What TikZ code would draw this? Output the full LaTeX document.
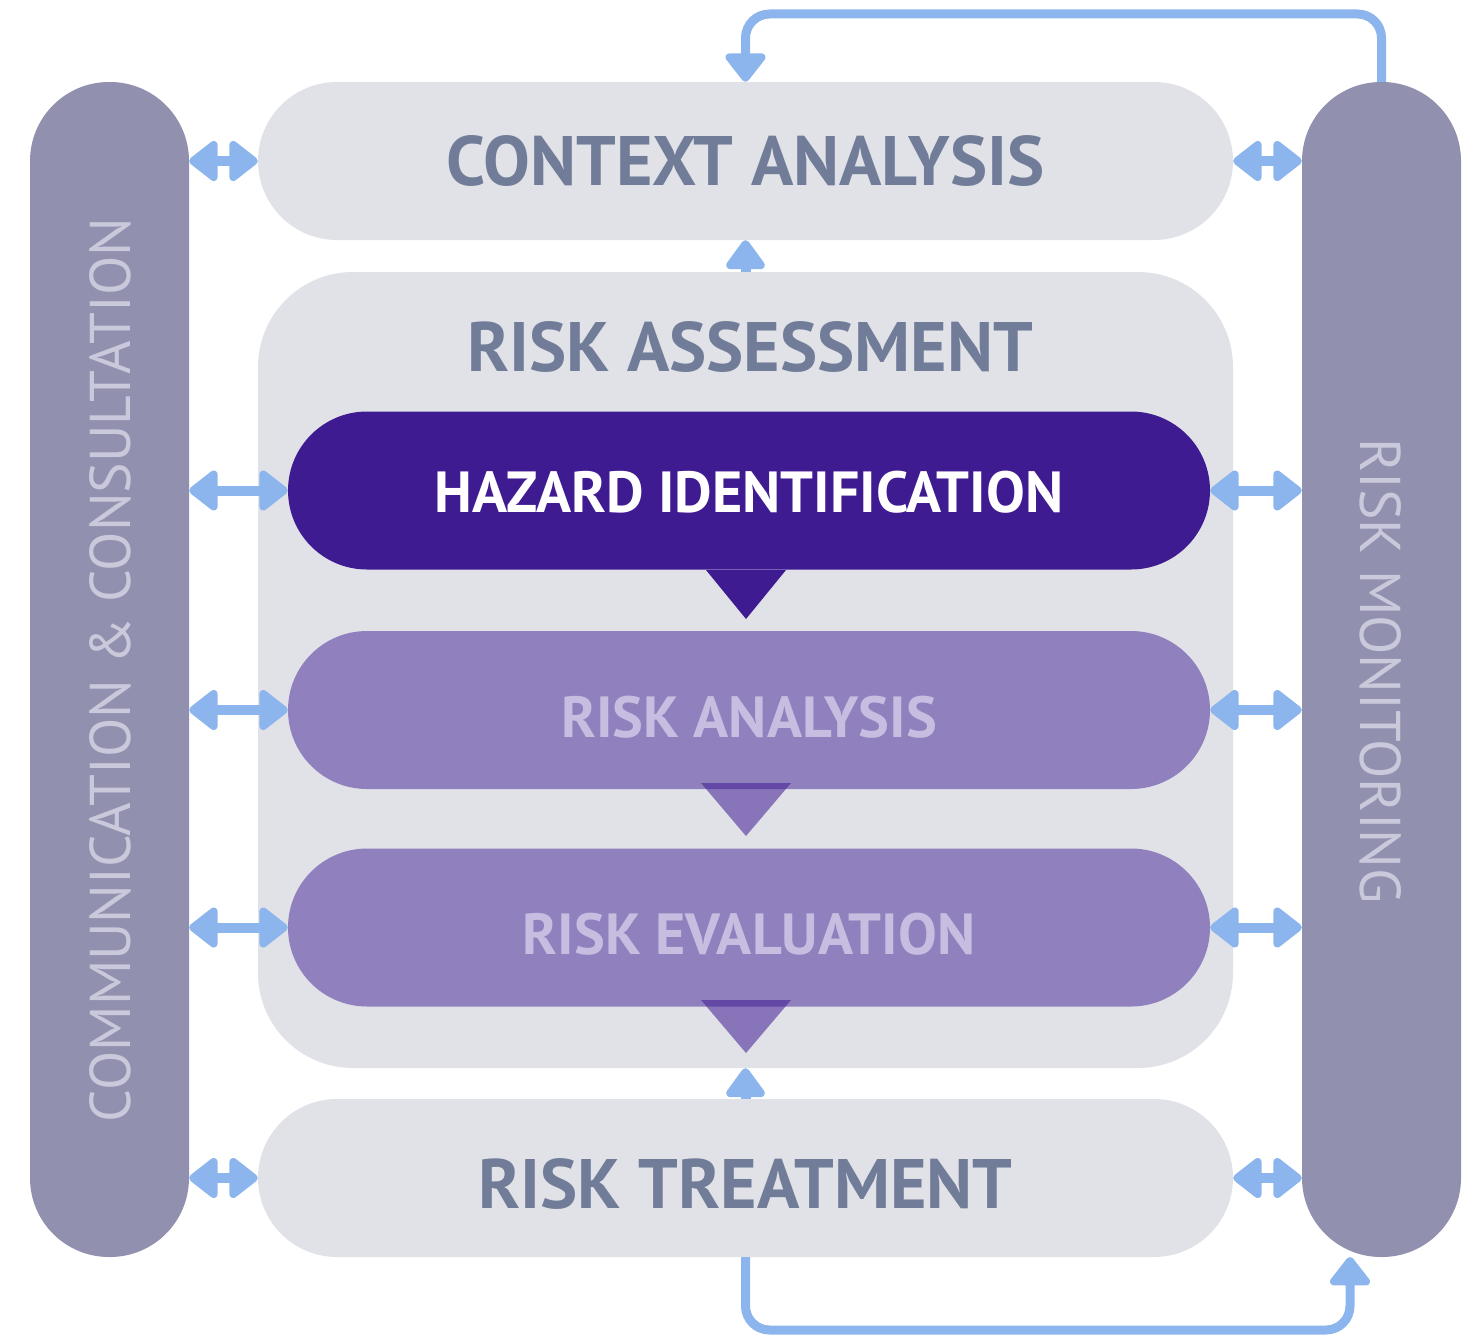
\documentclass[tikz,border=0pt]{standalone}
\usepackage{fontspec}
\setmainfont{PT Sans}
\usetikzlibrary{arrows.meta}

\definecolor{barcol}{RGB}{145,144,174}
\definecolor{bartext}{RGB}{201,201,219}
\definecolor{lightgrey}{RGB}{225,226,232}
\definecolor{greytext}{RGB}{113,124,152}
\definecolor{hazcol}{RGB}{63,27,146}
\definecolor{stagecol}{RGB}{144,129,190}
\definecolor{stagetext}{RGB}{198,189,224}
\definecolor{linkblue}{RGB}{139,181,236}

\newcommand{\lowered}[2]{\raisebox{-#1}[\height][\depth]{#2}}

\begin{document}
\begin{tikzpicture}
  [x=1pt,y=-1pt,
    pill/.style={rounded corners=79pt,fill=lightgrey,minimum width=975pt,minimum height=158pt,
      text=greytext,font=\fontsize{70}{76}\selectfont\bfseries},
    stage/.style={rounded corners=79pt,fill=stagecol,minimum width=922pt,minimum height=158pt,
      text=stagetext,font=\fontsize{58}{62}\selectfont\bfseries},
    side/.style={rounded corners=79pt,fill=barcol,minimum width=159pt,minimum height=1175pt},
    sidetext/.style={text=bartext,font=\fontsize{57.5}{62}\selectfont},
    link/.style={draw=linkblue,line width=10pt,
      {Triangle[round,length=31pt,width=46pt]}-{Triangle[round,length=31pt,width=46pt]}},
    uplink/.style={draw=linkblue,line width=10pt,-{Triangle[round,length=32pt,width=44pt]}},
    loopline/.style={draw=linkblue,line width=9pt,rounded corners=24pt,
      -{Triangle[round,length=31pt,width=46pt]}},
    notch/.style={fill=hazcol,fill opacity=0.55},
]

  \useasboundingbox (0,0) rectangle (1480,1338);

  % side bars
  \node[side] (lbar) at (109.5,669.5) {};
  \node[side] (rbar) at (1381.5,669.5) {};
  \node[sidetext,rotate=90] (comm) at (110,670) {COMMUNICATION \& CONSULTATION};
  \node[sidetext,rotate=-90] (mon) at (1381,671) {RISK MONITORING};

  % main column
  \node[pill] (ctx) at (745.5,161) {CONTEXT ANALYSIS};
  \draw[fill=lightgrey,draw=none,rounded corners=95pt] (258,272) rectangle (1233,1068);
  \node[minimum width=975pt,minimum height=796pt] (ass) at (745.5,670) {};
  \node[text=greytext,font=\fontsize{70}{76}\selectfont\bfseries] (asstitle) at (750,347) {RISK ASSESSMENT};
  \node[stage,fill=hazcol,text=white] (haz) at (749,490.5) {\lowered{2pt}{HAZARD IDENTIFICATION}};
  \node[stage] (ana) at (749,710) {\lowered{7pt}{RISK ANALYSIS}};
  \node[stage] (eva) at (749,927.5) {\lowered{7pt}{RISK EVALUATION}};
  \node[pill] (trt) at (745.5,1178) {\lowered{6pt}{RISK TREATMENT}};

  % notches
  \fill[hazcol] (706,570)--(786,570)--(746,619)--cycle;
  \fill[notch] (701,783)--(791,783)--(746,836)--cycle;
  \fill[notch] (701,1000)--(791,1000)--(746,1053)--cycle;

  % links to the side bars
  \draw[link] (ctx.west -| lbar.east) -- (ctx.west);
  \draw[link] (haz.west -| lbar.east) -- (haz.west);
  \draw[link] (ana.west -| lbar.east) -- (ana.west);
  \draw[link] (eva.west -| lbar.east) -- (eva.west);
  \draw[link] (trt.west -| lbar.east) -- (trt.west);
  \draw[link] (ctx.east) -- (ctx.east -| rbar.west);
  \draw[link] (haz.east) -- (haz.east -| rbar.west);
  \draw[link] (ana.east) -- (ana.east -| rbar.west);
  \draw[link] (eva.east) -- (eva.east -| rbar.west);
  \draw[link] (trt.east) -- (trt.east -| rbar.west);

  \draw[uplink] (ass.north) -- (ctx.south);
  \draw[uplink] (trt.north) -- (ass.south);

  % feedback loops
  \coordinate (topline) at (0,14);
  \coordinate (botline) at (0,1330);
  \coordinate (monin) at (1350,1257);
  \draw[loopline] (rbar.north) -- (rbar.north |- topline) -- (ctx.north |- topline) -- (ctx.north);
  \draw[loopline] (trt.south) -- (trt.south |- botline) -- (monin |- botline) -- (monin);

\end{tikzpicture}
\end{document}
